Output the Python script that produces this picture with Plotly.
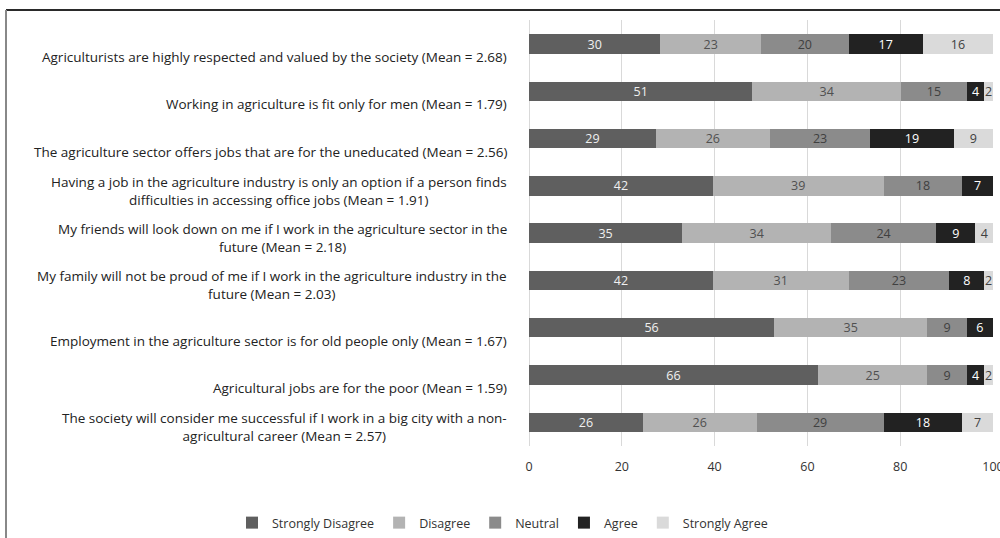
import plotly.graph_objects as go

statements = [
    "Agriculturists are highly respected and valued by the society",
    "Working in agriculture is fit only for men",
    "The agriculture sector offers jobs that are for the uneducated",
    "Having a job in the agriculture industry is only an option if a person finds<br>difficulties in accessing office jobs",
    "My friends will look down on me if I work in the agriculture sector in the<br>future",
    "My family will not be proud of me if I work in the agriculture industry in the<br>future",
    "Employment in the agriculture sector is for old people only",
    "Agricultural jobs are for the poor",
    "The society will consider me successful if I work in a big city with a non-<br>agricultural career",
]
means = ["2.68", "1.79", "2.56", "1.91", "2.18", "2.03", "1.67", "1.59", "2.57"]

series_names = ["Strongly Disagree", "Disagree", "Neutral", "Agree", "Strongly Agree"]
strongly_disagree = [30, 51, 29, 42, 35, 42, 56, 66, 26]
disagree = [23, 34, 26, 39, 34, 31, 35, 25, 26]
neutral = [20, 15, 23, 18, 24, 23, 9, 9, 29]
agree = [17, 4, 19, 7, 9, 8, 6, 4, 18]
strongly_agree = [16, 2, 9, 0, 4, 2, 0, 2, 7]
x_ticks = [0, 20, 40, 60, 80, 100]

labels = [f"{s} (Mean = {m})" for s, m in zip(statements, means)]
series_values = [strongly_disagree, disagree, neutral, agree, strongly_agree]
colors = ["#5f5f5f", "#b3b3b3", "#8b8b8b", "#222222", "#dadada"]
text_colors = ["#f0f0f0", "#505050", "#404040", "#ffffff", "#404040"]

FONT = "Open Sans"

fig = go.Figure()
for name, vals, c, tc in zip(series_names, series_values, colors, text_colors):
    fig.add_trace(go.Bar(
        name=name, y=labels, x=vals, orientation="h",
        marker=dict(color=c, line=dict(width=0)),
        text=[str(v) for v in vals], textposition="inside",
        insidetextanchor="middle", textangle=0,
        textfont=dict(family=FONT, size=12.5, color=tc),
        hoverinfo="skip",
    ))

# Category labels as annotations anchored to the category axis
for lab in labels:
    two_line = "<br>" in lab
    fig.add_annotation(
        x=0, xref="x", y=lab, yref="y", text=lab, showarrow=False,
        xanchor="right", yanchor="middle", align="center",
        xshift=-20, yshift=-5 if two_line else -13,
        font=dict(family=FONT, size=13.5, color="#222222"),
    )

L, R, T, B = 529, 7, 20, 92
W, H = 1000, 538
pw = W - L - R
ph = H - T - B

fig.add_shape(type="line", xref="paper", yref="paper",
              x0=(6 - L) / pw, x1=(1010 - L) / pw,
              y0=(H - B - 10) / ph, y1=(H - B - 10) / ph,
              line=dict(color="#2a2a2a", width=2))
fig.add_shape(type="line", xref="paper", yref="paper",
              x0=(6 - L) / pw, x1=(6 - L) / pw,
              y0=(H - B - 10) / ph, y1=(H - B - 560) / ph,
              line=dict(color="#888888", width=2))

legend_left_px = 232
legend_bottom_py = 538

fig.update_layout(
    width=W, height=H,
    margin=dict(l=L, r=R, t=T, b=B, autoexpand=False),
    barmode="stack", barnorm="percent", bargap=0.59,
    plot_bgcolor="white", paper_bgcolor="white",
    font=dict(family=FONT, size=12, color="#333333"),
    uniformtext=dict(minsize=12.5, mode="show"),
    xaxis=dict(range=[0, 100], tickvals=x_ticks, ticktext=[str(t) for t in x_ticks],
               showgrid=True, gridcolor="#d9d9d9", gridwidth=1,
               zeroline=True, zerolinecolor="#d9d9d9", zerolinewidth=1,
               ticks="", ticklabelstandoff=11, ticklabeloverflow="allow",
               tickfont=dict(family=FONT, size=12.5, color="#333333"),
               automargin=False, fixedrange=True),
    yaxis=dict(autorange="reversed", showticklabels=False, showgrid=False,
               ticks="", automargin=False, fixedrange=True),
    legend=dict(orientation="h", xref="paper", yref="paper",
                x=(legend_left_px - L) / pw, xanchor="left",
                y=(H - B - legend_bottom_py) / ph, yanchor="bottom",
                font=dict(family=FONT, size=12.5, color="#333333"),
                traceorder="normal", itemwidth=30),
    showlegend=True,
)

fig.write_html("out.html", config={"displayModeBar": False},
               post_script="document.body.style.margin='0';")
